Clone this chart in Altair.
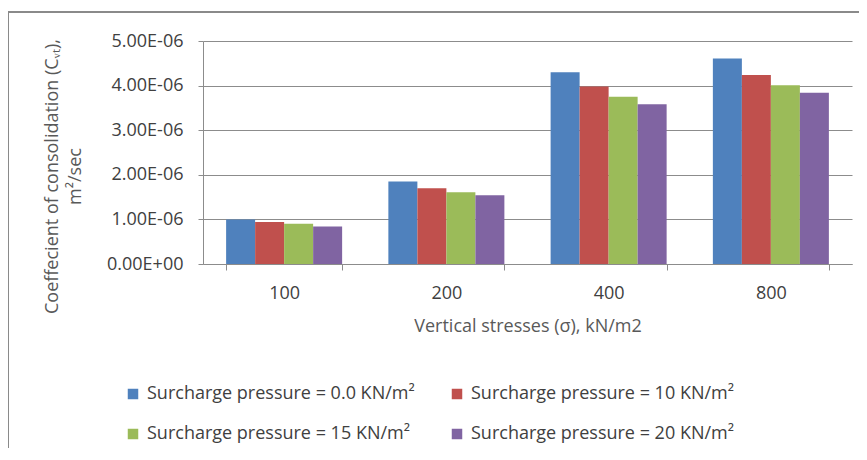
import altair as alt
import pandas as pd

# ---- data ----
stresses = ["100", "200", "400", "800"]
series = [
    "Surcharge pressure = 0.0 KN/m²",
    "Surcharge pressure = 10 KN/m²",
    "Surcharge pressure = 15 KN/m²",
    "Surcharge pressure = 20 KN/m²",
]
cv_00 = [1.00e-6, 1.85e-6, 4.30e-6, 4.61e-6]
cv_10 = [0.94e-6, 1.70e-6, 3.98e-6, 4.24e-6]
cv_15 = [0.90e-6, 1.61e-6, 3.75e-6, 4.01e-6]
cv_20 = [0.84e-6, 1.54e-6, 3.58e-6, 3.84e-6]
colors = ["#4F81BD", "#C0504D", "#9BBB59", "#8064A2"]
y_ticks = [0, 1e-6, 2e-6, 3e-6, 4e-6, 5e-6]

rows = []
for name, vals in zip(series, [cv_00, cv_10, cv_15, cv_20]):
    for s, v in zip(stresses, vals):
        rows.append({"stress": s, "series": name, "value": v})
df = pd.DataFrame(rows)

# legend fills column by column: order so rows read 0.0 | 10, 15 | 20
legend_order = [0, 2, 1, 3]
legend_domain = [series[i] for i in legend_order]
legend_range = [colors[i] for i in legend_order]

FONT = "Open Sans"

bars = alt.Chart(df).mark_bar().encode(
    x=alt.X(
        "stress:N",
        sort=stresses,
        scale=alt.Scale(paddingInner=0.285, paddingOuter=0.1425),
        axis=alt.Axis(
            title="Vertical stresses (σ), kN/m2",
            labelAngle=0,
            tickBand="extent",
            tickSize=6,
            tickColor="#8c8c8c",
            domainColor="#8c8c8c",
            labelFont=FONT,
            labelFontSize=18,
            labelColor="#404040",
            labelPadding=14,
            titleFont=FONT,
            titleFontSize=18,
            titleFontWeight="normal",
            titleColor="#595959",
            titleY=62,
            titleBaseline="middle",
            grid=False,
        ),
    ),
    xOffset=alt.XOffset(
        "series:N", sort=series, scale=alt.Scale(paddingInner=0, paddingOuter=0)
    ),
    y=alt.Y(
        "value:Q",
        scale=alt.Scale(domain=[0, 5e-6]),
        axis=alt.Axis(
            title=["Coeffecient of consolidation (Cᵥₜ),", "m²/sec"],
            values=y_ticks,
            labelExpr="upper(replace(replace(format(datum.value, '.2e'), 'e-', 'e-0'), 'e+', 'e+0'))",
            tickSize=5,
            tickColor="#8c8c8c",
            domainColor="#8c8c8c",
            gridColor="#8c8c8c",
            gridWidth=1,
            labelFont=FONT,
            labelFontSize=18,
            labelColor="#404040",
            labelPadding=15,
            titleFont=FONT,
            titleFontSize=18,
            titleFontWeight="normal",
            titleColor="#595959",
            titleX=-151,
            titleY=135,
            titleAngle=-90,
            titleAlign="center",
            titleBaseline="middle",
            titleLineHeight=23,
        ),
    ),
    color=alt.Color(
        "series:N",
        sort=legend_domain,
        scale=alt.Scale(domain=legend_domain, range=legend_range),
        legend=alt.Legend(
            title=None,
            orient="none",
            legendX=-79,
            legendY=344,
            columns=2,
            columnPadding=33,
            rowPadding=22,
            padding=0,
            symbolType="square",
            symbolSize=110,
            symbolStrokeWidth=0,
            labelFont=FONT,
            labelFontSize=18,
            labelColor="#404040",
            labelOffset=5,
            labelLimit=400,
        ),
    ),
)

frame = alt.Chart(pd.DataFrame({"k": [0]})).mark_rect(
    fillOpacity=0, stroke="#8a8a8a", strokeWidth=2
).encode(
    x=alt.value(-195), x2=alt.value(900), y=alt.value(-29), y2=alt.value(700)
)

chart = alt.layer(frame, bars).properties(
    width=649,
    height=223,
    padding={"left": 195, "top": 33, "right": 7, "bottom": 184},
    autosize=alt.AutoSizeParams(type="none"),
    background="white",
).configure_view(stroke=None)

chart.save("out.html", embed_options={"renderer": "svg", "actions": False})
